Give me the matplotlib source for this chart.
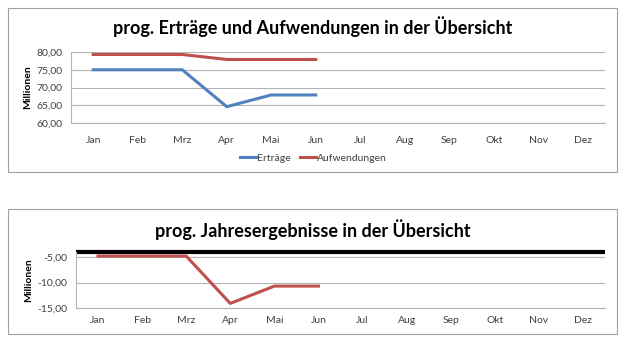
import matplotlib.pyplot as plt
from matplotlib.patches import Rectangle

# months on the category axis
months = ['Jan', 'Feb', 'Mrz', 'Apr', 'Mai', 'Jun', 'Jul', 'Aug', 'Sep', 'Okt', 'Nov', 'Dez']

# top chart (Millionen), only Jan..Jun known
ertraege = [75.0, 75.0, 75.0, 64.6, 67.9, 67.9]
aufwendungen = [79.3, 79.3, 79.3, 77.9, 77.9, 77.9]
top_yticks = [60, 65, 70, 75, 80]
top_ylabels = ['60,00', '65,00', '70,00', '75,00', '80,00']

# bottom chart (Millionen)
jahresergebnis = [-4.8, -4.8, -4.8, -14.1, -10.7, -10.7]
bot_yticks = [-15, -10, -5]
bot_ylabels = ['-15,00', '-10,00', '-5,00']

BLUE = '#4F81BD'
RED = '#C0504D'
GRID = '#b3b3b3'
TXT = '#404040'

plt.rcParams['font.family'] = ['Lato', 'DejaVu Sans']

fig = plt.figure(figsize=(6.3, 3.47), dpi=100)

# chart boxes
for y0, h in [(0.5043, 0.4726), (0.0375, 0.3602)]:
	fig.patches.append(Rectangle((0.0127, y0), 0.9667, h, transform=fig.transFigure,
		fill=False, edgecolor='#a0a0a0', linewidth=0.8))

def style_axes(ax, yticks, ylabels):
	ax.set_xlim(-0.5, 11.5)
	ax.set_xticks(range(len(months)))
	ax.set_xticklabels(months, fontsize=7.5, color=TXT)
	ax.set_yticks(yticks)
	ax.set_yticklabels(ylabels, fontsize=7.5, color=TXT)
	ax.tick_params(length=0, pad=6)
	ax.grid(axis='y', color=GRID, linewidth=0.8)
	ax.set_axisbelow(True)
	for s in ['top', 'right']:
		ax.spines[s].set_visible(False)
	for s in ['left', 'bottom']:
		ax.spines[s].set_color(GRID)
		ax.spines[s].set_linewidth(0.8)
	ax.set_ylabel('Millionen', fontsize=7.5, fontweight='bold', labelpad=3)

# top chart
ax1 = fig.add_axes([0.1127, 0.6455, 0.8476, 0.2046])
x = range(len(ertraege))
ax1.plot(x, ertraege, color=BLUE, linewidth=2.2, label='Erträge')
ax1.plot(range(len(aufwendungen)), aufwendungen, color=RED, linewidth=2.2, label='Aufwendungen')
ax1.set_ylim(60, 80)
style_axes(ax1, top_yticks, top_ylabels)
ax1.xaxis.set_tick_params(pad=9)
fig.legend(*ax1.get_legend_handles_labels(), loc='center', bbox_to_anchor=(0.497, 0.545),
	ncol=2, frameon=False, fontsize=7.5, handlelength=1.6, handletextpad=0.05,
	columnspacing=0.9, labelcolor=TXT)
fig.text(0.497, 0.922, 'prog. Erträge und Aufwendungen in der Übersicht',
	ha='center', va='center', fontsize=13, fontweight='bold')

# bottom chart
ax2 = fig.add_axes([0.1206, 0.1124, 0.8397, 0.1614])
ax2.plot(range(len(jahresergebnis)), jahresergebnis, color=RED, linewidth=2.2)
ax2.set_ylim(-15, -4)
style_axes(ax2, bot_yticks, bot_ylabels)
ax2.axhline(-4, color='black', linewidth=3, clip_on=False, solid_capstyle='butt')
fig.text(0.497, 0.337, 'prog. Jahresergebnisse in der Übersicht',
	ha='center', va='center', fontsize=13, fontweight='bold')

fig.savefig('out.png', dpi=100)
